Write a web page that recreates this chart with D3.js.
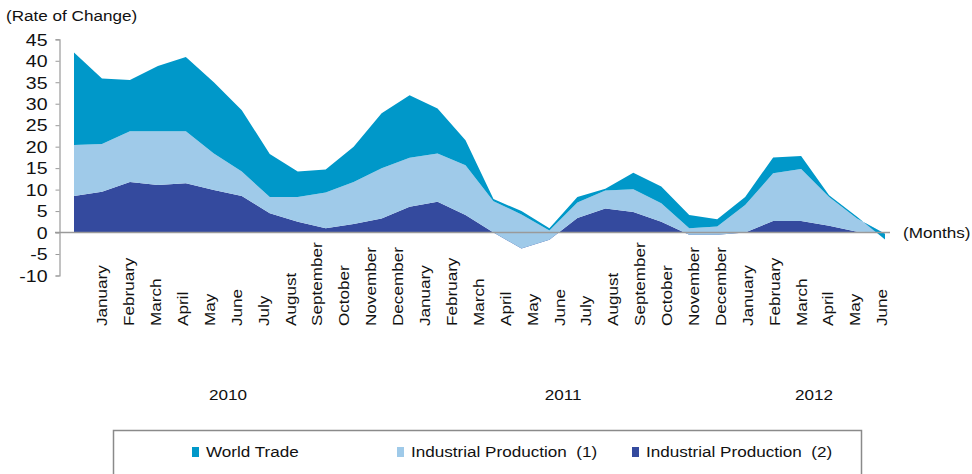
<!DOCTYPE html>
<html><head><meta charset="utf-8">
<script src="https://cdn.jsdelivr.net/npm/d3@7"></script>
<style>
body{margin:0;background:#fff;}
text{font-family:Arial,"Liberation Sans",sans-serif;fill:#111;}
</style></head>
<body><svg id="c" width="972" height="474"></svg>
<script>
const months = ["January","February","March","April","May","June","July","August","September","October","November","December",
"January","February","March","April","May","June","July","August","September","October","November","December",
"January","February","March","April","May","June"];
const years = ["2010","2011","2012"];
const seriesNames = ["Industrial Production (2)","Industrial Production (1)","World Trade"];
// stacked values (Excel stacked area): IP2 bottom, IP1, World Trade on top
const ip2 = [8.5,9.5,11.8,11.1,11.5,9.9,8.5,4.5,2.5,1.0,2.0,3.3,6.0,7.2,4.1,0,-3.7,-1.7,3.4,5.6,4.8,2.5,-0.5,-0.5,0,2.7,2.7,1.6,0.2,0];
const ip1 = [11.9,11.1,11.8,12.5,12.1,8.5,5.7,3.8,5.8,8.3,9.8,11.7,11.4,11.2,11.6,7.3,7.9,2.2,3.6,4.2,5.3,4.3,1.5,1.9,6.4,11.1,12.1,6.7,3.1,-0.3];
const wt  = [21.5,15.3,11.9,15.2,17.3,16.6,14.3,10.0,5.9,5.4,8.2,12.8,14.6,10.5,5.8,0.5,0.8,0.5,1.3,0.4,3.8,3.9,3.1,1.7,1.9,3.7,3.0,0.4,0.4,-1.3];
const yTicks = [45,40,35,30,25,20,15,10,5,0,-5,-10];

const colors = {"World Trade":"#0098c9","Industrial Production (1)":"#9fcae9","Industrial Production (2)":"#344a9e"};

const svg = d3.select("#c");
const idx = d3.range(months.length);
const x = d3.scalePoint().domain(idx).range([74,885]);
const xl = d3.scalePoint().domain(idx).range([102,882]);
const y = d3.scaleLinear().domain([-10,45]).range([275.5,39.3]);

const rows = idx.map(i=>({"Industrial Production (2)":ip2[i],"Industrial Production (1)":ip1[i],"World Trade":wt[i]}));
const stack = d3.stack().keys(seriesNames).offset(d3.stackOffsetNone).order(d3.stackOrderNone);
const layers = stack(rows);
const area = d3.area().x((d,i)=>x(i)).y0(d=>y(d[0])).y1(d=>y(d[1]));

svg.append("g").selectAll("path").data(layers).join("path")
  .attr("d",area).attr("fill",d=>colors[d.key]);

// y axis
const ya = svg.append("g").attr("transform","translate(59.5,0)")
  .call(d3.axisLeft(y).tickValues(yTicks).tickSize(4).tickFormat(d=>String(d)));
ya.select(".domain").attr("stroke","#9a9a9a").attr("stroke-width",1.2);
ya.selectAll(".tick line").attr("stroke","#9a9a9a");
ya.selectAll(".tick text")
  .attr("x",null).attr("dy",null)
  .attr("transform","translate(-12,0) scale(1.22,1)")
  .attr("dy","0.36em")
  .attr("font-size",16).attr("fill","#111").style("font-family","Arial,'Liberation Sans',sans-serif");

// zero line
svg.append("line").attr("x1",55).attr("x2",890).attr("y1",y(0)).attr("y2",y(0))
  .attr("stroke","#9a9a9a").attr("stroke-width",1.5);

const SX = 1.14;
svg.append("text").attr("transform",`translate(6,21) scale(${SX},1)`).attr("font-size",15).text("(Rate of Change)");
svg.append("text").attr("transform",`translate(903,${y(0)}) scale(${SX},1)`).attr("dy","0.35em").attr("font-size",15).text("(Months)");

// month labels
svg.append("g").selectAll("text").data(idx).join("text")
  .attr("transform",i=>`translate(${xl(i)},326) rotate(-90) scale(${SX},1)`)
  .attr("dy","0.35em").attr("text-anchor","start").attr("font-size",15)
  .text(i=>months[i]);

// year labels
const yearX = [228,563,814];
svg.append("g").selectAll("text").data(years).join("text")
  .attr("transform",(d,i)=>`translate(${yearX[i]},400) scale(${SX},1)`)
  .attr("text-anchor","middle").attr("font-size",15)
  .text(d=>d);

// legend
svg.append("rect").attr("x",113.5).attr("y",430.5).attr("width",748).attr("height",60)
  .attr("fill","#fff").attr("stroke","#8a8a8a").attr("stroke-width",1.5);
const legOrder = ["World Trade","Industrial Production (1)","Industrial Production (2)"];
const legX = [192,397,632];
const lg = svg.append("g").selectAll("g").data(legOrder).join("g")
  .attr("transform",(d,i)=>`translate(${legX[i]},447)`);
lg.append("rect").attr("width",7).attr("height",10).attr("fill",d=>colors[d]);
lg.append("text").attr("transform",`translate(14,10) scale(${SX},1)`).attr("font-size",15)
  .attr("xml:space","preserve").style("white-space","pre")
  .text(d=>d.replace(" (","  ("));
</script></body></html>
